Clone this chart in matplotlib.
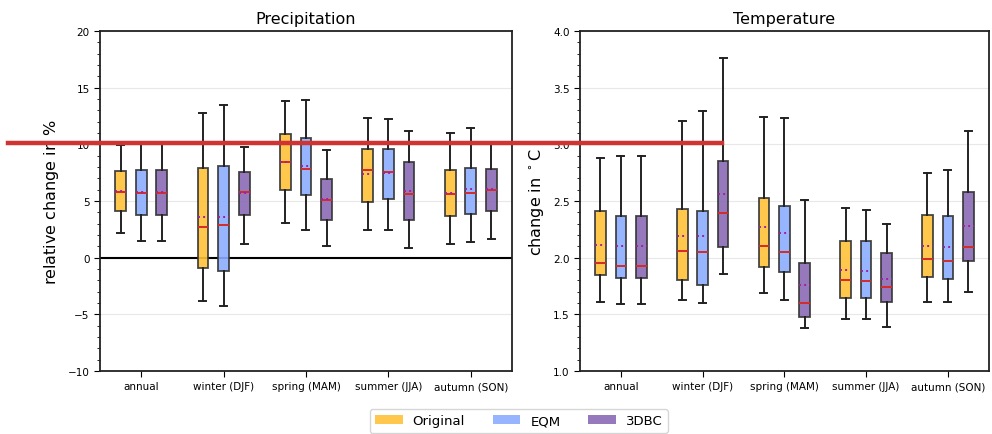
import matplotlib
matplotlib.use("Agg")
import matplotlib.pyplot as plt
from matplotlib.patches import Patch
from matplotlib.lines import Line2D
from matplotlib.ticker import MultipleLocator

seasons = ["annual", "winter (DJF)", "spring (MAM)", "summer (JJA)", "autumn (SON)"]
methods = ["Original", "EQM", "3DBC"]
colors = ["#ffc23a", "#8cadff", "#8a6bb5"]

# precipitation, relative change in %  (rows: Original, EQM, 3DBC)
pr_whishi = [[9.9, 12.8, 13.85, 12.35, 11.0],
             [10.0, 13.5, 13.9, 12.25, 11.45],
             [10.0, 9.75, 9.5, 11.2, 10.0]]
pr_q3 = [[7.65, 7.9, 10.9, 9.6, 7.7],
         [7.75, 8.05, 10.6, 9.55, 7.9],
         [7.75, 7.6, 6.95, 8.4, 7.85]]
pr_med = [[5.8, 2.7, 8.4, 7.7, 5.6],
          [5.75, 2.9, 7.8, 7.6, 5.75],
          [5.75, 5.8, 5.05, 5.6, 6.0]]
pr_mean = [[5.85, 3.55, 8.4, 7.4, 5.75],
           [5.8, 3.55, 8.05, 7.45, 6.05],
           [5.8, 5.7, 5.2, 5.85, 6.05]]
pr_q1 = [[4.15, -0.95, 5.95, 4.95, 3.7],
         [3.75, -1.15, 5.5, 5.15, 3.85],
         [3.75, 3.75, 3.3, 3.35, 4.1]]
pr_whislo = [[2.2, -3.8, 3.1, 2.4, 1.2],
             [1.45, -4.25, 2.45, 2.4, 1.4],
             [1.45, 1.2, 1.0, 0.85, 1.65]]

# temperature, change in degC
tas_whishi = [[2.88, 3.21, 3.24, 2.44, 2.75],
              [2.90, 3.29, 3.23, 2.42, 2.77],
              [2.90, 3.76, 2.51, 2.30, 3.12]]
tas_q3 = [[2.41, 2.43, 2.53, 2.15, 2.38],
          [2.37, 2.41, 2.46, 2.15, 2.37],
          [2.37, 2.85, 1.95, 2.04, 2.58]]
tas_med = [[1.95, 2.06, 2.10, 1.80, 1.99],
           [1.93, 2.05, 2.05, 1.79, 1.97],
           [1.93, 2.39, 1.60, 1.74, 2.09]]
tas_mean = [[2.11, 2.19, 2.27, 1.89, 2.10],
            [2.10, 2.19, 2.22, 1.88, 2.09],
            [2.10, 2.56, 1.76, 1.81, 2.28]]
tas_q1 = [[1.85, 1.80, 1.92, 1.64, 1.83],
          [1.82, 1.76, 1.87, 1.64, 1.81],
          [1.82, 2.09, 1.48, 1.61, 1.97]]
tas_whislo = [[1.61, 1.63, 1.69, 1.46, 1.61],
              [1.59, 1.60, 1.63, 1.46, 1.61],
              [1.59, 1.86, 1.38, 1.39, 1.70]]


def boxes(ax, whishi, q3, med, mean, q1, whislo):
    offsets = [-0.25, 0.0, 0.25]
    for m in range(3):
        stats = []
        for s in range(len(seasons)):
            stats.append(dict(med=med[m][s], q1=q1[m][s], q3=q3[m][s],
                              whislo=whislo[m][s], whishi=whishi[m][s],
                              mean=mean[m][s], fliers=[]))
        pos = [s + offsets[m] for s in range(len(seasons))]
        ax.bxp(stats, positions=pos, widths=0.13, capwidths=0.085,
               patch_artist=True, showmeans=True, meanline=True,
               showfliers=False, manage_ticks=False,
               boxprops=dict(facecolor=colors[m], edgecolor="#333333",
                             linewidth=1.3, alpha=0.9),
               whiskerprops=dict(color="#222222", linewidth=1.4),
               capprops=dict(color="#222222", linewidth=1.4),
               medianprops=dict(color="#d42a2a", linewidth=1.4),
               meanprops=dict(color="#a020a0", linestyle=":", linewidth=1.4))
    ax.set_xticks(range(len(seasons)))
    ax.set_xticklabels(seasons, fontsize=7.5)
    ax.set_xlim(-0.5, 4.5)
    ax.grid(axis="y", which="major", color="#e8e8e8", linewidth=0.8)
    ax.set_axisbelow(True)
    ax.tick_params(axis="y", which="major", labelsize=7.5, length=4)
    ax.tick_params(axis="y", which="minor", length=2)
    ax.tick_params(axis="x", length=4)
    for sp in ax.spines.values():
        sp.set_linewidth(1.3)
        sp.set_color("#222222")


fig = plt.figure(figsize=(9.92, 4.35), dpi=100)
ax1 = fig.add_axes([0.1008, 0.1448, 0.4153, 0.7816])
ax2 = fig.add_axes([0.5847, 0.1448, 0.4120, 0.7816])

boxes(ax1, pr_whishi, pr_q3, pr_med, pr_mean, pr_q1, pr_whislo)
ax1.axhline(0, color="black", linewidth=1.5, zorder=1)
ax1.set_ylim(-10, 20)
ax1.yaxis.set_major_locator(MultipleLocator(5))
ax1.yaxis.set_minor_locator(MultipleLocator(1))
ax1.set_title("Precipitation", fontsize=11.5)
ax1.set_ylabel(r"relative change in $\%$", fontsize=11.5, labelpad=5)

boxes(ax2, tas_whishi, tas_q3, tas_med, tas_mean, tas_q1, tas_whislo)
ax2.set_ylim(1.0, 4.0)
ax2.yaxis.set_major_locator(MultipleLocator(0.5))
ax2.yaxis.set_minor_locator(MultipleLocator(0.1))
ax2.set_title("Temperature", fontsize=11.5)
ax2.set_ylabel(r"change in $^\circ$C", fontsize=11.5, labelpad=5)

handles = [Patch(facecolor=c, alpha=0.9) for c in colors]
fig.legend(handles, methods, loc="lower center", ncol=3,
           bbox_to_anchor=(0.523, -0.012), fontsize=9.5, handlelength=2.1,
           handletextpad=0.75, columnspacing=2.1, frameon=True,
           edgecolor="#cccccc")

# red marker line across the figure
fig.add_artist(Line2D([0.008, 0.728], [1 - 143.5 / 435, 1 - 143.5 / 435],
                      transform=fig.transFigure, color="#d13232",
                      linewidth=3.2, zorder=10))

fig.savefig("out.png", dpi=100)
